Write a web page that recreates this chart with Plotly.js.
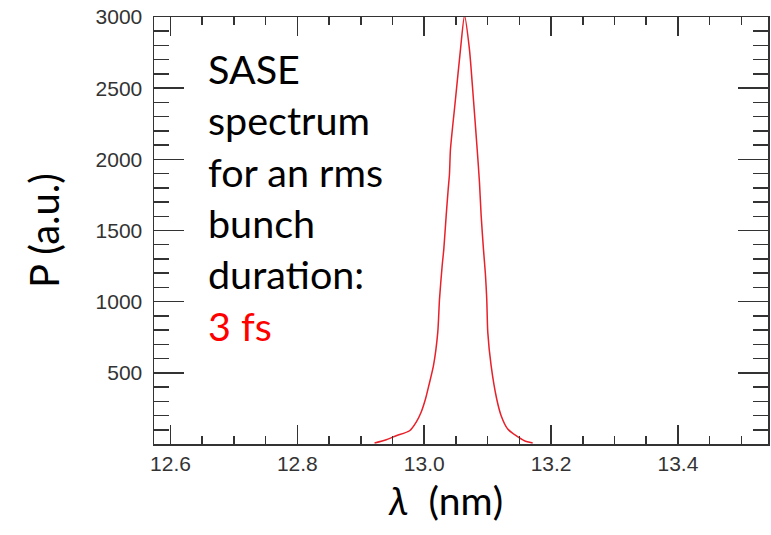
<!DOCTYPE html>
<html><head><meta charset="utf-8">
<script src="https://cdn.plot.ly/plotly-3.0.1.min.js"></script>
<style>html,body{margin:0;padding:0;background:#fff}</style>
</head><body>
<div id="chart" style="width:771px;height:535px"></div>
<script>
// SASE spectrum
const wavelength = [12.9217, 12.9402, 12.9559, 12.9769, 12.9874, 12.9953, 13.0020, 13.0072, 13.0146, 13.0214,
  13.0241, 13.0283, 13.0309, 13.0346, 13.0378, 13.0398, 13.0414, 13.0493, 13.0572, 13.0635,
  13.0713, 13.0776, 13.0835, 13.0871, 13.0898, 13.0934, 13.0965, 13.0986, 13.1002, 13.1055,
  13.1143, 13.1213, 13.1317, 13.1449, 13.1580, 13.1710];
const power = [7, 30, 58, 93, 154, 225, 316, 409, 550, 786,
  1018, 1252, 1369, 1603, 1790, 1895, 2071, 2422, 2773, 3010,
  2773, 2422, 2071, 1839, 1603, 1369, 1193, 1018, 786, 550,
  316, 199, 105, 58, 23, 7];

const xTickVals = [12.6, 12.8, 13.0, 13.2, 13.4];
const xTickText = ['12.6', '12.8', '13.0', '13.2', '13.4'];
const yTickVals = [500, 1000, 1500, 2000, 2500, 3000];
const yTickText = ['500', '1000', '1500', '2000', '2500', '3000'];

const noteLines = ['SASE', 'spectrum', 'for an rms', 'bunch', 'duration:'];
const noteHighlight = '3 fs';

const axisColor = '#333333';
const tickFont = {family: 'Liberation Sans, Arial, sans-serif', size: 21, color: '#333333'};
const textFont = 'Lato, "Open Sans", sans-serif';

const trace = {
  x: wavelength, y: power, type: 'scatter', mode: 'lines',
  line: {color: '#e8202a', width: 1.5, shape: 'spline', smoothing: 0.6},
  hoverinfo: 'x+y', showlegend: false
};

const layout = {
  width: 771, height: 535,
  margin: {l: 154, r: 3, t: 17, b: 91},
  paper_bgcolor: '#ffffff', plot_bgcolor: '#ffffff',
  xaxis: {
    range: [12.574, 13.542],
    tickmode: 'array', tickvals: xTickVals, ticktext: xTickText,
    ticks: 'inside', ticklen: 19, tickwidth: 1.5, tickcolor: axisColor,
    minor: {tickmode: 'linear', tick0: 12.6, dtick: 0.05, ticks: 'inside', ticklen: 8, tickwidth: 1.5, tickcolor: axisColor, showgrid: false},
    showline: true, linecolor: axisColor, linewidth: 1.5, mirror: 'ticks',
    showgrid: false, zeroline: false,
    tickfont: tickFont,
    title: {text: '<i>λ</i>&nbsp; (nm)&nbsp;&nbsp;&nbsp;', font: {family: textFont, size: 39, color: '#000'}, standoff: 14}
  },
  yaxis: {
    range: [0, 3000],
    tickmode: 'array', tickvals: yTickVals, ticktext: yTickText,
    ticks: 'inside', ticklen: 30, tickwidth: 1.5, tickcolor: axisColor,
    minor: {tickmode: 'linear', tick0: 0, dtick: 100, ticks: 'inside', ticklen: 15, tickwidth: 1.5, tickcolor: axisColor, showgrid: false},
    showline: true, linecolor: axisColor, linewidth: 1.5, mirror: 'ticks',
    showgrid: false, zeroline: false,
    ticklabelstandoff: 6,
    tickfont: tickFont,
    title: {text: 'P (a.u.)', font: {family: textFont, size: 40, color: '#000'}, standoff: 23}
  },
  annotations: [{
    xref: 'paper', yref: 'paper', x: 0.085, y: 0.94,
    xanchor: 'left', yanchor: 'top', align: 'left', showarrow: false,
    text: noteLines.join('<br>') + '<br><span style="color:#ff0000">' + noteHighlight + '</span>',
    font: {family: textFont, size: 39.5, color: '#000'}
  }]
};

Plotly.newPlot('chart', [trace], layout, {displayModeBar: false, staticPlot: true});
</script>
</body></html>
